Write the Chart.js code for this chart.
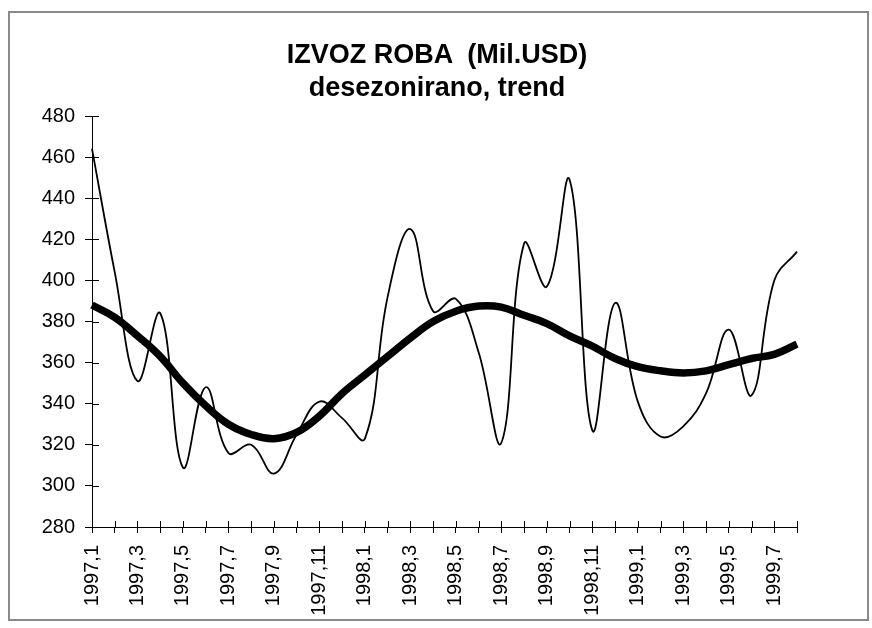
<!DOCTYPE html>
<html>
<head>
<meta charset="utf-8">
<title>Izvoz roba</title>
<script src="https://cdn.jsdelivr.net/npm/chart.js@4/dist/chart.umd.min.js"></script>
<style>
  body { margin: 0; background: #fff; }
  #wrap { position: relative; width: 872px; height: 628px; }
  #naslov {
    position: absolute;
    left: 0;
    width: 874px;
    top: 38px;
    text-align: center;
    font-family: 'Liberation Sans', Arial, sans-serif;
    font-weight: bold;
    font-size: 27px;
    line-height: 33px;
    color: #000;
  }
</style>
</head>
<body>
<div id="wrap">
  <canvas id="chart" width="872" height="628"></canvas>
  <div id="naslov"></div>
</div>
<script>
// mjeseci 1997,1 .. 1999,8
const months = [
  "1997,1", "1997,2", "1997,3", "1997,4", "1997,5", "1997,6", "1997,7", "1997,8",
  "1997,9", "1997,10", "1997,11", "1997,12", "1998,1", "1998,2", "1998,3", "1998,4",
  "1998,5", "1998,6", "1998,7", "1998,8", "1998,9", "1998,10", "1998,11", "1998,12",
  "1999,1", "1999,2", "1999,3", "1999,4", "1999,5", "1999,6", "1999,7", "1999,8"
];

// desezonirano (tanka linija)
const desezonirano = [
  464, 404, 351, 384, 309, 348, 316, 320,
  306, 325, 341, 333, 323, 392, 425, 385,
  391, 365, 321, 418, 397, 449, 327, 389,
  341, 324, 329, 345, 376, 344, 400, 414
];

// trend (debela linija)
const trend = [
  388, 382, 373, 363, 350, 339, 330, 325,
  323, 326, 334, 345, 354, 363, 372, 380,
  385, 387.5, 387, 383, 379, 373, 368, 362,
  358, 356, 355, 356, 359, 362, 364, 369
];

const titleLines = ["IZVOZ ROBA  (Mil.USD)", "desezonirano, trend"];
const yMin = 280;
const yMax = 480;
const yStep = 20;

const font = "'Liberation Sans', Arial, sans-serif";

// naslov kao obican tekst iznad platna
const naslov = document.getElementById("naslov");
titleLines.forEach((t) => {
  const d = document.createElement("div");
  d.textContent = t;
  d.style.whiteSpace = "pre";
  naslov.appendChild(d);
});

// okvir oko cijelog grafikona
const framePlugin = {
  id: "frame",
  beforeDraw(chart) {
    const ctx = chart.ctx;
    ctx.save();
    ctx.fillStyle = "#fff";
    ctx.fillRect(0, 0, chart.width, chart.height);
    ctx.strokeStyle = "#8a8a8a";
    ctx.lineWidth = 2;
    ctx.strokeRect(9, 12, 859, 608);
    ctx.restore();
  },
};

// crtice koje prelaze preko osi (i unutra)
const innerTicks = {
  id: "innerTicks",
  afterDatasetsDraw(chart) {
    const ctx = chart.ctx;
    const x = chart.scales.x;
    const y = chart.scales.y;
    ctx.save();
    ctx.strokeStyle = "#000";
    ctx.lineWidth = 1;
    ctx.beginPath();
    x.ticks.forEach((t, i) => {
      const px = Math.round(x.getPixelForTick(i)) + 0.5;
      ctx.moveTo(px, x.top - 6);
      ctx.lineTo(px, x.top);
    });
    y.ticks.forEach((t, i) => {
      const py = Math.round(y.getPixelForTick(i)) + 0.5;
      ctx.moveTo(y.right, py);
      ctx.lineTo(y.right + 7, py);
    });
    ctx.stroke();
    ctx.restore();
  },
};

new Chart(document.getElementById("chart"), {
  type: "line",
  data: {
    labels: months,
    datasets: [
      {
        label: "desezonirano",
        data: desezonirano,
        borderColor: "#000",
        borderWidth: 1.8,
        pointRadius: 0,
        tension: 0.4,
        fill: false,
      },
      {
        label: "trend",
        data: trend,
        borderColor: "#000",
        borderWidth: 7.5,
        pointRadius: 0,
        tension: 0.4,
        fill: false,
      },
    ],
  },
  options: {
    responsive: false,
    animation: false,
    layout: { padding: { top: 116, left: 8, right: 75, bottom: 8 } },
    plugins: {
      legend: { display: false },
      tooltip: { enabled: false },
      title: { display: false },
    },
    scales: {
      x: {
        type: "category",
        offset: false,
        grid: { display: true, drawOnChartArea: false, drawTicks: true, tickLength: 6, color: "#000" },
        border: { display: true, color: "#000", width: 1 },
        ticks: {
          autoSkip: false,
          minRotation: 90,
          maxRotation: 90,
          padding: 12,
          color: "#000",
          font: { family: font, size: 20 },
          callback: (v, i) => (i % 2 === 0 ? months[i] : ""),
        },
        afterFit: (s) => { s.height = 93; },
      },
      y: {
        min: yMin,
        max: yMax,
        grid: { display: true, drawOnChartArea: false, drawTicks: true, tickLength: 7, color: "#000" },
        border: { display: true, color: "#000", width: 1 },
        ticks: {
          stepSize: yStep,
          padding: 10,
          color: "#000",
          font: { family: font, size: 20 },
        },
        afterFit: (s) => { s.width = 84; },
      },
    },
  },
  plugins: [framePlugin, innerTicks],
});
</script>
</body>
</html>
